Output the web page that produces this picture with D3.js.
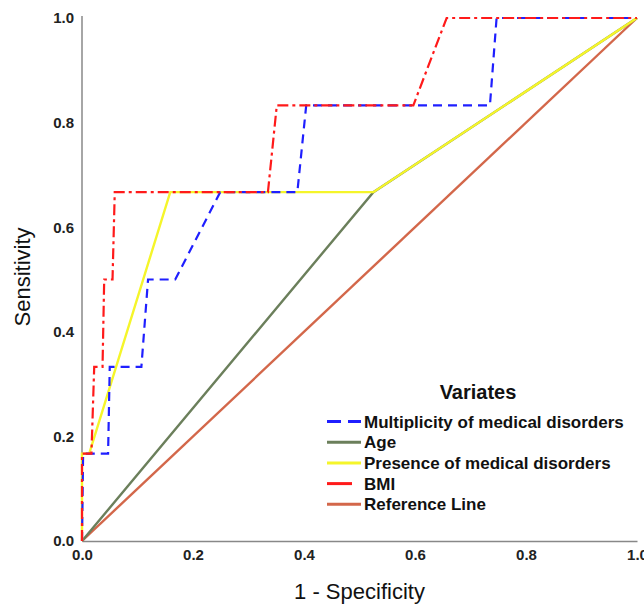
<!DOCTYPE html>
<html>
<head>
<meta charset="utf-8">
<script src="https://cdn.jsdelivr.net/npm/d3@7"></script>
<style>
  body { margin: 0; background: #fff; }
  text { font-family: Arial, "Liberation Sans", sans-serif; }
</style>
</head>
<body>
<div id="chart"></div>
<script>
// ROC curves, values
const multiplicity = [[0, 0], [0.002, 0.167], [0.047, 0.167], [0.05, 0.333], [0.107, 0.333], [0.119, 0.5], [0.168, 0.5], [0.249, 0.667], [0.388, 0.667], [0.404, 0.833], [0.735, 0.833], [0.747, 1], [1, 1]];
const age = [[0, 0], [0.525, 0.667], [1, 1]];
const presence = [[0, 0], [0, 0.167], [0.013, 0.167], [0.159, 0.667], [0.525, 0.667], [1, 1]];
const bmi = [[0, 0], [0, 0.167], [0.017, 0.167], [0.022, 0.333], [0.037, 0.333], [0.04, 0.5], [0.055, 0.5], [0.059, 0.667], [0.335, 0.667], [0.351, 0.833], [0.597, 0.833], [0.657, 1], [1, 1]];
const reference = [[0, 0], [1, 1]];
const ticks = [0, 0.2, 0.4, 0.6, 0.8, 1.0];
const names = ["Multiplicity of medical disorders", "Age", "Presence of medical disorders", "BMI", "Reference Line"];

const config = {
    width: 644,
    height: 605,
    margin: { top: 18, left: 82, bottom: 64, right: 7 }
}

const series = [
    { name: names[0], data: multiplicity, color: "#1f1fff", dash: "9,6" },
    { name: names[1], data: age, color: "#6b7f5b", dash: null },
    { name: names[2], data: presence, color: "#f5f52a", dash: null },
    { name: names[3], data: bmi, color: "#ff1a1a", dash: "11,4,3,4" },
    { name: names[4], data: reference, color: "#d3674a", dash: null }
]

const svg = d3.select("#chart")
    .append("svg")
    .attr("width", config.width)
    .attr("height", config.height)

const scale_x = d3.scaleLinear()
    .domain([0, 1])
    .range([config.margin.left, config.width - config.margin.right])
const scale_y = d3.scaleLinear()
    .domain([0, 1])
    .range([config.height - config.margin.bottom, config.margin.top])

// axes
const axis_x = d3.axisBottom(scale_x).tickValues(ticks).tickSize(0).tickPadding(8).tickFormat(d3.format(".1f"))
const g_axisX = svg.append("g")
    .attr("transform", `translate(0, ${scale_y(0)})`)
    .call(axis_x)
const axis_y = d3.axisLeft(scale_y).tickValues(ticks).tickSize(0).tickPadding(8).tickFormat(d3.format(".1f"))
const g_axisY = svg.append("g")
    .attr("transform", `translate(${scale_x(0)}, 0)`)
    .call(axis_y)
g_axisY.select(".domain").attr("d", `M0,${scale_y(1) - 2}V${scale_y(0)}`)
for (const g of [g_axisX, g_axisY]) {
    g.select(".domain").attr("stroke", "#888").attr("stroke-width", 1.5)
    g.selectAll("text")
        .attr("font-size", "15px")
        .attr("font-weight", "bold")
        .attr("fill", "#222")
        .attr("font-family", "Arial, 'Liberation Sans', sans-serif")
}

// curves
const line = d3.line().x(d => scale_x(d[0])).y(d => scale_y(d[1]))
const drawOrder = [4, 1, 2, 0, 3]
svg.append("g")
    .selectAll("path")
    .data(drawOrder.map(i => series[i]))
    .join("path")
    .attr("d", d => line(d.data))
    .attr("fill", "none")
    .attr("stroke", d => d.color)
    .attr("stroke-width", d => d.dash ? 2.2 : 2.4)
    .attr("stroke-dasharray", d => d.dash)

// axis titles
svg.append("text")
    .attr("x", (scale_x(0) + scale_x(1)) / 2)
    .attr("y", 599)
    .attr("text-anchor", "middle")
    .attr("font-size", "22px")
    .attr("fill", "#111")
    .text("1 - Specificity")
svg.append("text")
    .attr("transform", `translate(30, 277) rotate(-90)`)
    .attr("text-anchor", "middle")
    .attr("font-size", "22px")
    .attr("fill", "#111")
    .text("Sensitivity")

// legend
const g_legend = svg.append("g").attr("transform", "translate(327, 0)")
g_legend.append("text")
    .attr("x", 151)
    .attr("y", 399)
    .attr("text-anchor", "middle")
    .attr("font-size", "20px")
    .attr("font-weight", "bold")
    .attr("fill", "#111")
    .text("Variates")
const items = g_legend.selectAll("g.item")
    .data(series)
    .join("g")
    .attr("class", "item")
    .attr("transform", (d, i) => `translate(0, ${421.5 + i * 20.7})`)
items.append("line")
    .attr("x1", 0)
    .attr("x2", (d, i) => i == 3 ? 25 : 34)
    .attr("stroke", d => d.color)
    .attr("stroke-width", 3)
    .attr("stroke-dasharray", (d, i) => i == 0 ? "14,7" : null)
items.append("text")
    .attr("x", 37)
    .attr("y", 6)
    .attr("font-size", "17px")
    .attr("font-weight", "bold")
    .attr("fill", "#111")
    .text(d => d.name)
</script>
</body>
</html>
